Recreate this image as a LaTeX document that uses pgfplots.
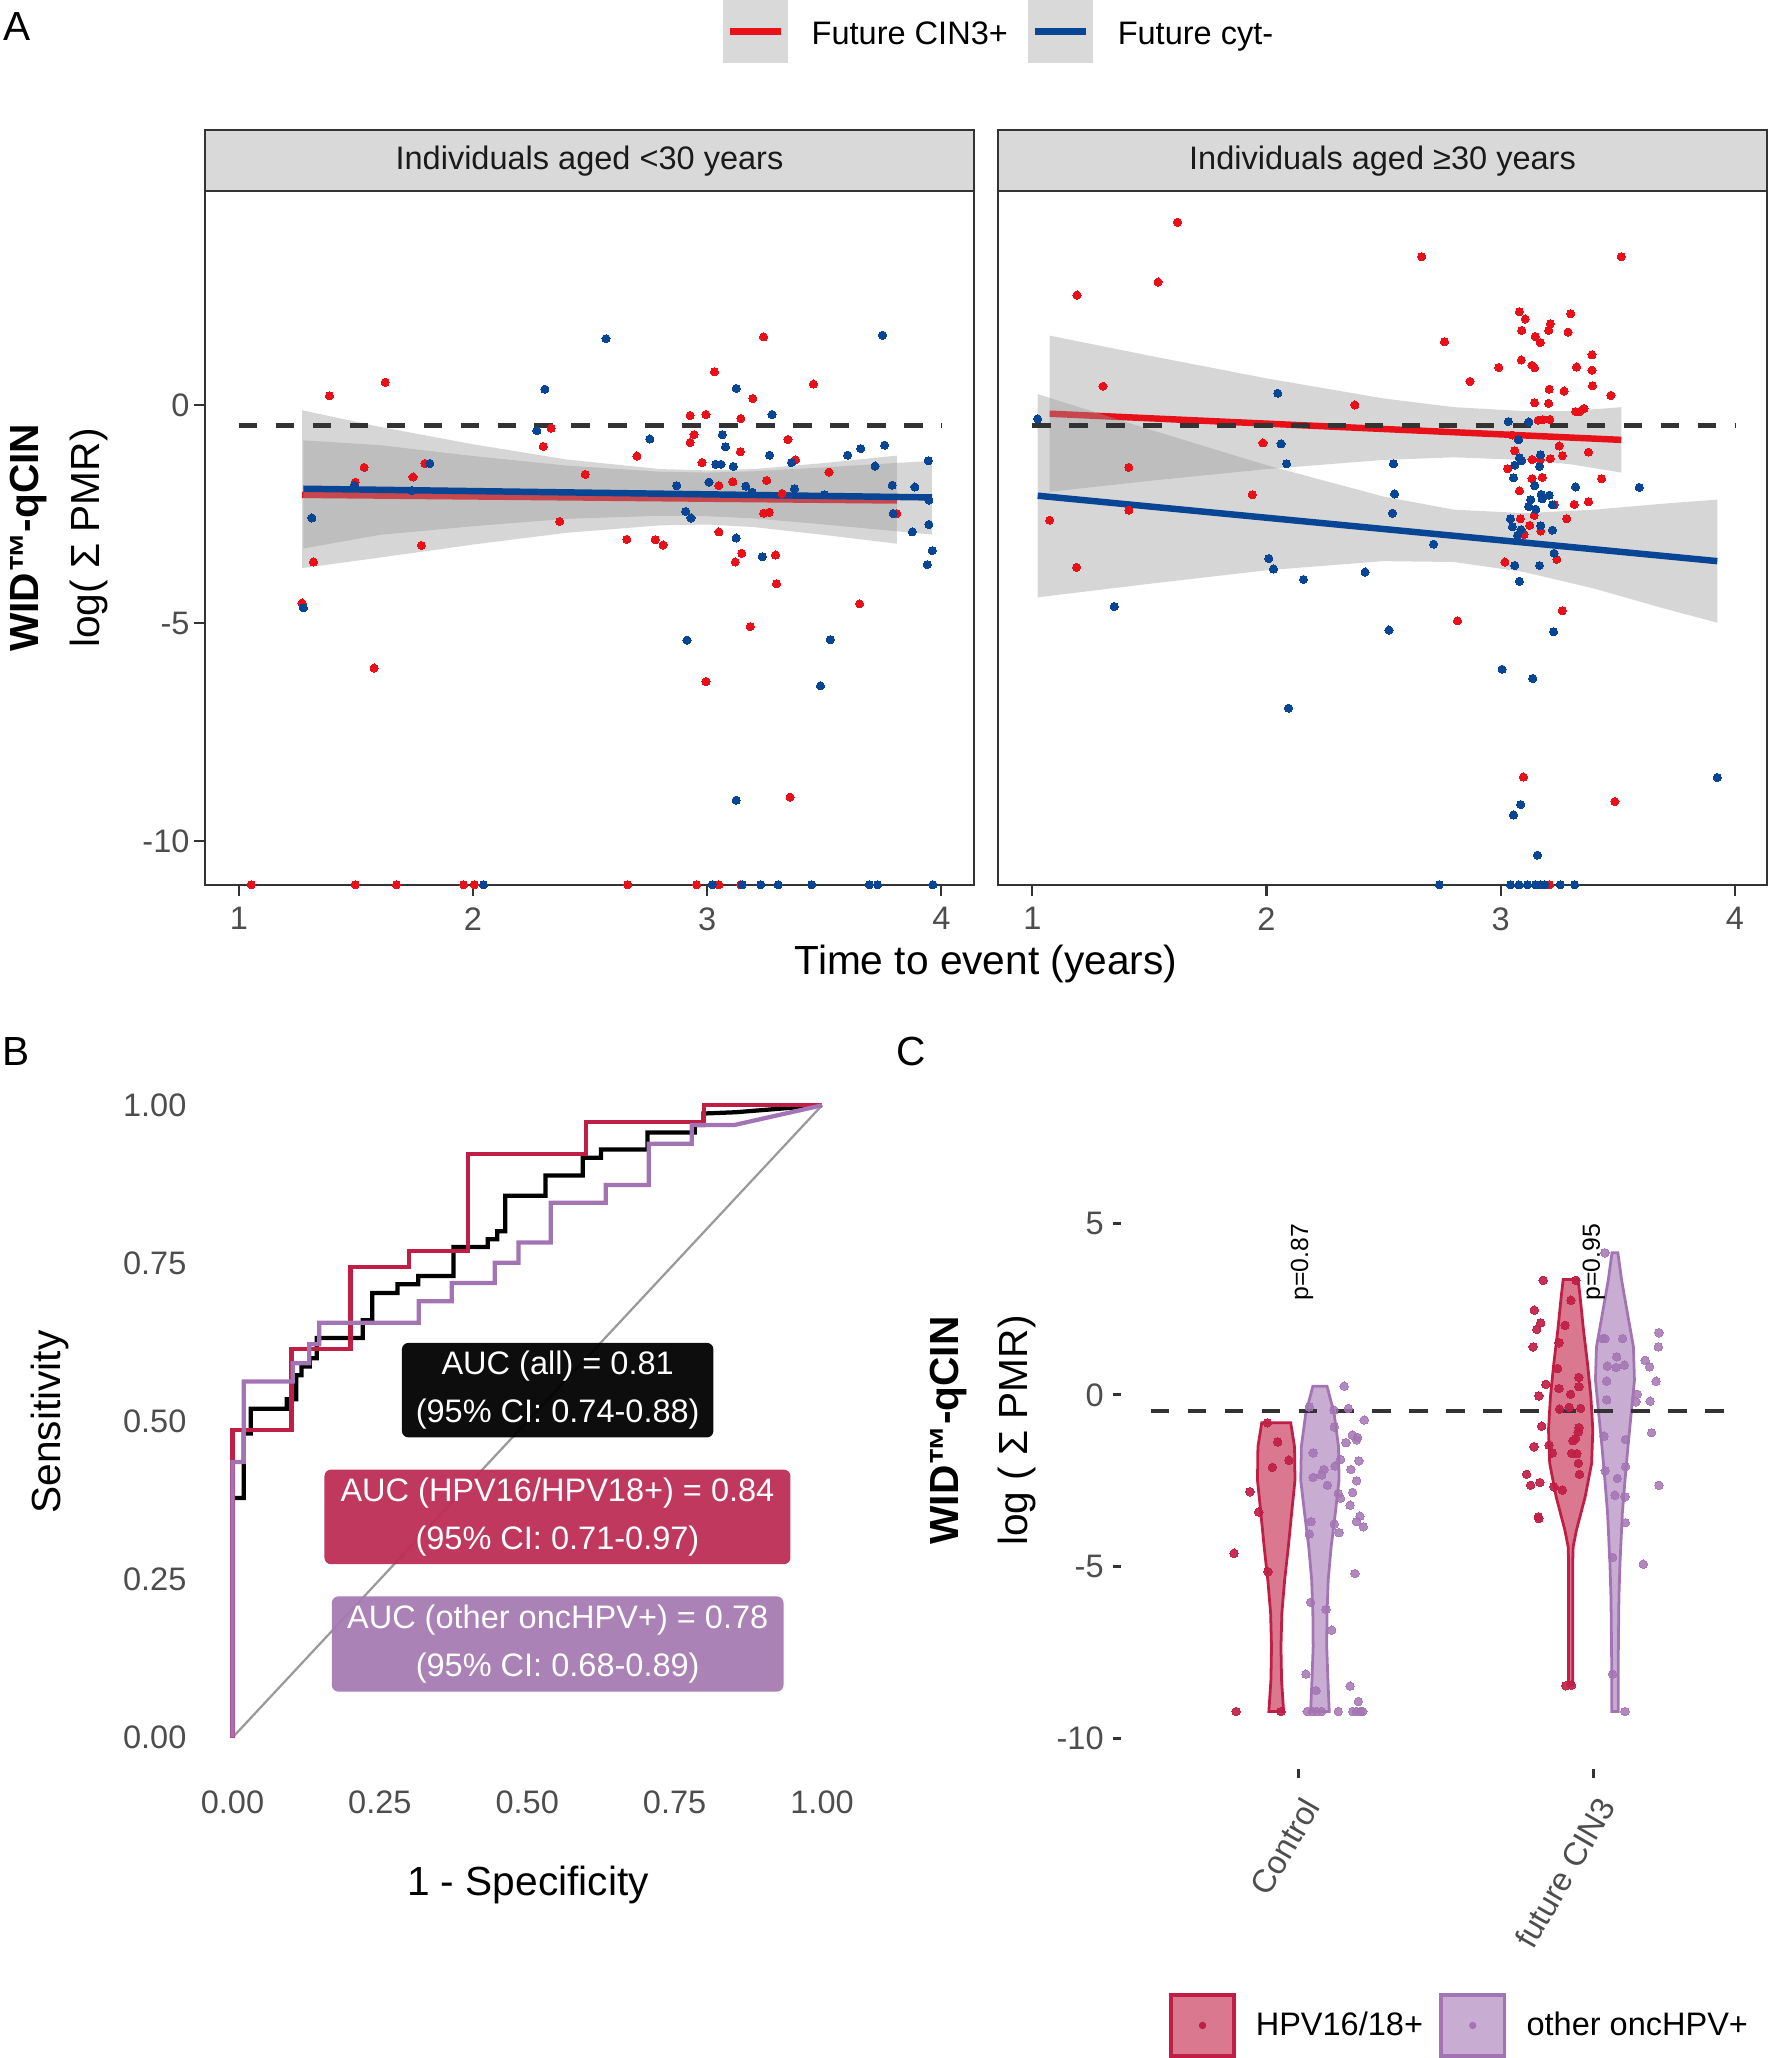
\documentclass[border=0pt]{standalone}
\usepackage{fontspec}
\setmainfont{Liberation Sans}
\usepackage{pgfplots}
\pgfplotsset{compat=1.18}
\definecolor{redA}{HTML}{E8111A}
\definecolor{blueA}{HTML}{084594}
\definecolor{crim}{HTML}{C01E45}
\definecolor{crimbox}{HTML}{BE2D55}
\definecolor{purp}{HTML}{A374B3}
\definecolor{purpbox}{HTML}{A57BB2}
\definecolor{g20}{HTML}{333333}
\definecolor{g30}{HTML}{4D4D4D}
\definecolor{g10}{HTML}{1A1A1A}
\definecolor{g85}{HTML}{D9D9D9}
\definecolor{g60}{HTML}{999999}
\newcommand{\tkf}{\fontsize{8.8}{10}\selectfont}
\newcommand{\ttl}{\fontsize{11}{13}\selectfont}
\pgfplotsset{
  Abase/.style={anchor=south west, scale only axis, width=208.07pt, height=187.64pt,
    ymin=-11.004, ymax=4.895, xtick={1,2,3,4}, xticklabels={1,2,3,4},
    axis line style={g20, line width=0.55pt}, tick style={g20, line width=0.55pt},
    tick align=outside, major tick length=2.85pt, xtick pos=left, ytick pos=left,
    ticklabel style={font=\tkf, text=g30, inner sep=0pt},
    xticklabel style={anchor=north, yshift=-3.0pt},
    yticklabel style={anchor=east, xshift=-1.15pt},
    clip=true},
  ptR/.style={only marks, mark=*, mark size=1.1pt, color=redA, mark options={line width=0pt}},
  ptB/.style={only marks, mark=*, mark size=1.1pt, color=blueA, mark options={line width=0pt}},
  band/.style={fill=g60, fill opacity=0.4, draw=none},
  lnR/.style={redA, line width=1.75pt, no marks},
  lnB/.style={blueA, line width=1.75pt, no marks},
  dsh/.style={g20, line width=1.25pt, dash pattern=on 5pt off 5pt, no marks},
}
\begin{document}
\begin{tikzpicture}
\useasboundingbox (0,0) rectangle (478.91pt,556.83pt);

% ---------------- Panel A legend ----------------
\fill[g85] (195.62pt,539.79pt) rectangle (213.21pt,556.83pt);
\draw[redA, line width=1.75pt] (197.52pt,548.31pt) -- (211.31pt,548.31pt);
\node[anchor=base west, inner sep=0pt, font=\tkf] at (219.43pt,544.78pt) {Future CIN3+};
\fill[g85] (278.15pt,539.79pt) rectangle (295.73pt,556.83pt);
\draw[blueA, line width=1.75pt] (280.04pt,548.31pt) -- (293.84pt,548.31pt);
\node[anchor=base west, inner sep=0pt, font=\tkf] at (302.23pt,544.78pt) {Future cyt-};

% strips
\draw[fill=g85, draw=g20, line width=0.5pt] (55.47pt,505.02pt) rectangle (263.54pt,521.66pt);
\draw[fill=g85, draw=g20, line width=0.5pt] (270.03pt,505.02pt) rectangle (478.10pt,521.66pt);
\node[anchor=base, inner sep=0pt, font=\tkf, text=g10] at (159.50pt,510.9pt) {Individuals aged <30 years};
\node[anchor=base, inner sep=0pt, font=\tkf, text=g10] at (374.06pt,510.9pt) {Individuals aged ≥30 years};

% titles A
\node[anchor=base, rotate=90, inner sep=0pt, font=\bfseries\ttl] at (10.3pt,411.27pt) {WID™-qCIN};
\node[anchor=base, rotate=90, inner sep=0pt, font=\ttl] at (26.9pt,411.27pt) {log( Σ PMR)};
\node[anchor=base, inner sep=0pt, font=\ttl] at (266.78pt,293.03pt) {Time to event (years)};
\node[anchor=base west, inner sep=0pt, font=\ttl] at (0.7pt,545.8pt) {A};
\node[anchor=base west, inner sep=0pt, font=\ttl] at (0.46pt,268.41pt) {B};
\node[anchor=base west, inner sep=0pt, font=\ttl] at (242.43pt,268.41pt) {C};

% ---------------- Panel A left ----------------
\begin{axis}[Abase, at={(55.47pt,317.38pt)}, xmin=0.8557, xmax=4.1396,
  ytick={-10,-5,0}, yticklabels={-10,-5,0}]
\addplot[ptR] table {
x y
1.387 0.21
1.625 0.52
1.270 -4.54
1.578 -6.03
1.497 -1.77
1.535 -1.43
1.744 -1.65
1.795 -1.34
1.780 -3.22
1.319 -3.60
2.334 -0.53
2.300 -0.95
2.370 -2.67
2.479 -1.59
2.700 -1.17
2.657 -3.08
2.778 -3.09
2.812 -3.21
2.927 -0.24
2.995 -0.22
2.944 -0.68
2.927 -0.86
3.031 0.76
2.978 -1.32
3.050 -2.91
3.050 -1.85
2.995 -6.34
3.110 -1.76
3.144 -0.31
3.142 -1.07
3.195 0.15
3.241 1.56
3.120 -3.60
3.148 -3.40
3.184 -5.08
3.254 -1.73
3.241 -2.48
3.265 -2.46
3.292 -3.44
3.296 -4.10
3.345 -0.79
3.377 -1.26
3.354 -8.99
3.454 0.48
3.520 -1.54
3.651 -4.56
3.810 -2.49
3.320 -2.03
1.053 -11
1.497 -11
1.673 -11
1.960 -11
2.005 -11
2.661 -11
2.955 -11
3.050 -11
3.144 -11
};
\addplot[ptB] table {
x y
2.568 1.52
2.307 0.36
2.273 -0.59
2.755 -0.78
3.124 0.38
3.065 -0.68
3.078 -0.96
3.037 -1.36
3.059 -1.36
3.112 -1.41
3.277 -0.22
3.267 -1.15
3.360 -1.32
3.600 -1.15
3.656 -1.00
3.758 -0.92
3.749 1.60
3.717 -1.40
3.790 -1.84
3.887 -1.88
3.944 -1.28
3.947 -2.18
3.947 -2.74
3.876 -2.91
3.961 -3.34
3.940 -3.66
3.794 -2.49
2.870 -1.85
2.908 -2.44
2.931 -2.59
3.008 -1.77
3.165 -1.86
3.192 -2.00
3.373 -1.92
3.500 -2.06
3.124 -3.05
3.235 -3.48
2.914 -5.39
3.526 -5.38
3.484 -6.44
3.124 -9.06
1.276 -4.65
1.312 -2.59
1.816 -1.34
1.739 -1.96
1.493 -1.84
2.045 -11
3.022 -11
3.150 -11
3.229 -11
3.303 -11
3.447 -11
3.692 -11
3.728 -11
3.964 -11
};
\addplot[band] coordinates {(1.27,-0.12)(1.6,-0.5)(2.0,-0.9)(2.4,-1.25)(2.8,-1.47)(3.0,-1.5)(3.2,-1.47)(3.5,-1.33)(3.81,-1.16)
 (3.81,-3.18)(3.5,-2.98)(3.2,-2.8)(3.0,-2.74)(2.8,-2.76)(2.4,-2.93)(2.0,-3.2)(1.6,-3.5)(1.27,-3.74)} -- cycle;
\addplot[lnR] coordinates {(1.27,-2.06)(3.81,-2.19)};
\addplot[band] coordinates {(1.276,-0.81)(1.6,-0.92)(2.0,-1.17)(2.4,-1.39)(2.8,-1.53)(3.0,-1.55)(3.2,-1.52)(3.5,-1.43)(3.96,-1.28)
 (3.96,-2.97)(3.5,-2.74)(3.2,-2.6)(3.0,-2.55)(2.8,-2.54)(2.4,-2.61)(2.0,-2.78)(1.6,-2.98)(1.276,-3.29)} -- cycle;
\addplot[lnB] coordinates {(1.276,-1.92)(3.96,-2.12)};
\addplot[dsh] coordinates {(1,-0.47)(4,-0.47)};
\end{axis}

% ---------------- Panel A right ----------------
\begin{axis}[Abase, at={(270.03pt,317.38pt)}, xmin=0.8535, xmax=4.1375, ytick=\empty]
\addplot[ptR] table {
x y
1.620 4.19
2.663 3.40
3.515 3.40
1.191 2.52
1.537 2.82
1.302 0.43
2.377 0.00
1.985 -0.87
1.412 -1.43
1.939 -2.06
1.412 -2.41
1.074 -2.64
1.189 -3.72
2.760 1.45
2.869 0.54
2.992 0.86
2.816 -4.95
3.080 2.14
3.105 1.97
3.090 1.71
3.148 1.57
3.169 1.43
3.212 1.86
3.205 1.71
3.299 2.09
3.288 1.67
3.088 1.03
3.134 0.91
3.145 0.85
3.390 1.15
3.324 0.87
3.390 0.80
3.392 0.44
3.207 0.36
3.271 0.32
3.471 0.22
3.145 0.05
3.205 0.04
3.320 -0.15
3.337 -0.15
3.356 -0.08
3.160 -0.35
3.180 -0.34
3.210 -0.33
3.050 -0.69
3.060 -1.05
3.250 -0.94
3.264 -1.16
3.375 -1.08
3.134 -1.25
3.169 -1.25
3.212 -1.23
3.030 -1.46
3.134 -1.69
3.178 -1.66
3.431 -1.69
3.080 -1.97
3.229 -2.29
3.314 -2.28
3.375 -2.22
3.143 -2.53
3.084 -2.61
3.124 -2.76
3.171 -2.89
3.100 -2.97
3.282 -2.61
3.018 -3.60
3.240 -3.54
3.263 -4.72
3.097 -8.53
3.488 -9.09
3.209 -11
};
\addplot[ptB] table {
x y
1.023 -0.32
2.048 0.27
2.062 -0.89
2.086 -1.35
2.542 -1.35
2.547 -2.04
2.538 -2.48
2.714 -3.19
2.010 -3.52
2.030 -3.76
2.158 -4.00
2.421 -3.83
1.350 -4.62
2.523 -5.16
2.094 -6.95
3.006 -6.06
3.137 -6.27
3.226 -5.20
3.592 -1.89
3.320 -1.88
3.925 -8.54
3.033 -0.38
3.120 -0.39
3.076 -0.80
3.060 -1.38
3.080 -1.21
3.090 -1.28
3.170 -1.14
3.166 -1.41
3.055 -1.67
3.145 -1.85
3.173 -2.05
3.207 -2.07
3.177 -2.15
3.128 -2.17
3.120 -2.33
3.150 -2.39
3.221 -2.29
3.042 -2.61
3.050 -2.79
3.087 -2.86
3.072 -2.99
3.171 -2.77
3.221 -2.87
3.228 -3.40
3.060 -3.68
3.166 -3.68
3.080 -4.04
3.157 -10.32
3.085 -9.16
3.055 -9.40
2.738 -11
3.042 -11
3.078 -11
3.114 -11
3.148 -11
3.171 -11
3.188 -11
3.254 -11
3.316 -11
};
\addplot[band] coordinates {(1.074,1.59)(1.5,1.13)(2.0,0.61)(2.5,0.15)(2.8,-0.05)(3.1,-0.14)(3.3,-0.14)(3.515,-0.05)
 (3.515,-1.55)(3.3,-1.36)(3.1,-1.26)(2.8,-1.2)(2.5,-1.26)(2.0,-1.47)(1.5,-1.74)(1.074,-1.99)} -- cycle;
\addplot[lnR] coordinates {(1.074,-0.2)(3.515,-0.8)};
\addplot[band] coordinates {(1.023,0.25)(1.5,-0.56)(2.0,-1.38)(2.5,-2.10)(2.8,-2.40)(3.1,-2.48)(3.4,-2.40)(3.7,-2.26)(3.925,-2.17)
 (3.925,-4.99)(3.7,-4.67)(3.4,-4.21)(3.1,-3.83)(2.8,-3.60)(2.5,-3.58)(2.0,-3.79)(1.5,-4.10)(1.023,-4.41)} -- cycle;
\addplot[lnB] coordinates {(1.023,-2.08)(3.925,-3.58)};
\addplot[dsh] coordinates {(1,-0.47)(4,-0.47)};
\end{axis}

% ---------------- Panel B ----------------
\node[anchor=base, rotate=90, inner sep=0pt, font=\ttl] at (16.42pt,172.08pt) {Sensitivity};
\node[anchor=base, inner sep=0pt, font=\ttl] at (142.86pt,43.89pt) {1 - Specificity};
\begin{axis}[at={(54.93pt,78.14pt)}, anchor=south west, scale only axis, width=175.46pt, height=188.18pt,
  xmin=-0.05, xmax=1.05, ymin=-0.05, ymax=1.05,
  axis line style={draw=none}, major tick length=0pt, tick style={draw=none},
  xtick={0,0.25,0.5,0.75,1}, xticklabels={0.00,0.25,0.50,0.75,1.00},
  ytick={0,0.25,0.5,0.75,1}, yticklabels={0.00,0.25,0.50,0.75,1.00},
  ticklabel style={font=\tkf, text=g30, inner sep=0pt},
  xticklabel style={anchor=north, yshift=-5.6pt},
  yticklabel style={anchor=east, xshift=-4.3pt},
  clip=false]
\addplot[g60, line width=0.6pt, no marks] coordinates {(0,0)(1,1)};
\addplot[black, line width=1.15pt, no marks] coordinates {(0,0)(0,0.379)(0.019,0.379)(0.019,0.481)(0.031,0.481)(0.031,0.52)(0.092,0.52)(0.092,0.535)(0.108,0.535)(0.108,0.573)(0.117,0.573)(0.117,0.587)(0.131,0.587)(0.131,0.6)(0.143,0.6)(0.143,0.632)(0.221,0.632)(0.221,0.66)(0.237,0.66)(0.237,0.703)(0.28,0.703)(0.28,0.717)(0.315,0.717)(0.315,0.73)(0.375,0.73)(0.375,0.776)(0.433,0.776)(0.433,0.788)(0.449,0.788)(0.449,0.801)(0.4625,0.801)(0.4625,0.857)(0.531,0.857)(0.531,0.889)(0.594,0.889)(0.594,0.917)(0.625,0.917)(0.625,0.93)(0.704,0.93)(0.704,0.957)(0.784,0.957)(0.784,0.969)(0.799,0.969)(0.799,0.987)(0.853,0.989)(1,1)};
\addplot[crim, line width=1.15pt, no marks] coordinates {(0,0)(0,0.487)(0.1,0.487)(0.1,0.615)(0.2,0.615)(0.2,0.744)(0.3,0.744)(0.3,0.769)(0.4,0.769)(0.4,0.923)(0.6,0.923)(0.6,0.974)(0.8,0.974)(0.8,1)(1,1)};
\addplot[purp, line width=1.15pt, no marks] coordinates {(0,0)(0,0.436)(0.019,0.436)(0.019,0.563)(0.102,0.563)(0.102,0.592)(0.13,0.592)(0.13,0.622)(0.147,0.622)(0.147,0.656)(0.316,0.656)(0.316,0.690)(0.372,0.690)(0.372,0.719)(0.445,0.719)(0.445,0.751)(0.485,0.751)(0.485,0.783)(0.540,0.783)(0.540,0.846)(0.633,0.846)(0.633,0.874)(0.706,0.874)(0.706,0.939)(0.779,0.939)(0.779,0.969)(0.852,0.969)(1,1)};
\node[fill=black, fill opacity=0.95, text opacity=1, text=white, rounded corners=1.8pt, inner sep=0pt,
  minimum width=84.3pt, minimum height=25.6pt, align=center, font=\fontsize{8.8}{13}\selectfont]
  at (axis cs:0.5516,0.5495) {AUC (all) = 0.81\\(95\% CI: 0.74-0.88)};
\node[fill=crimbox, fill opacity=0.95, text opacity=1, text=white, rounded corners=1.8pt, inner sep=0pt,
  minimum width=126.1pt, minimum height=25.6pt, align=center, font=\fontsize{8.8}{13}\selectfont]
  at (axis cs:0.5512,0.349) {AUC (HPV16/HPV18+) = 0.84\\(95\% CI: 0.71-0.97)};
\node[fill=purpbox, fill opacity=0.95, text opacity=1, text=white, rounded corners=1.8pt, inner sep=0pt,
  minimum width=122.2pt, minimum height=25.8pt, align=center, font=\fontsize{8.8}{13}\selectfont]
  at (axis cs:0.5516,0.148) {AUC (other oncHPV+) = 0.78\\(95\% CI: 0.68-0.89)};
\end{axis}

% ---------------- Panel C ----------------
\node[anchor=base, rotate=90, inner sep=0pt, font=\bfseries\ttl] at (259.4pt,169.75pt) {WID™-qCIN};
\node[anchor=base, rotate=90, inner sep=0pt, font=\ttl] at (277.9pt,169.75pt) {log ( Σ PMR)};
\begin{axis}[at={(303.36pt,78.14pt)}, anchor=south west, scale only axis, width=175.78pt, height=188.18pt,
  xmin=0.4, xmax=2.6, ymin=-10.9, ymax=9.357,
  axis line style={draw=none}, tick align=outside, major tick length=2.3pt, tick style={g20, line width=0.8pt},
  xtick={1,2}, xticklabels={Control,future CIN3}, ytick={-10,-5,0,5}, yticklabels={-10,-5,0,5},
  xtick pos=left, ytick pos=left,
  ticklabel style={font=\tkf, text=g30, inner sep=0pt},
  xticklabel style={xshift=0.6pt, yshift=-4.4pt, rotate=60, anchor=north east},
  yticklabel style={anchor=east, xshift=-2.25pt},
  clip=false]
\addplot[draw=crim, fill=crim, fill opacity=0.6, line width=0.75pt] coordinates {(0.900,-9.22)(0.907,-8.30)(0.909,-7.33)(0.906,-6.36)(0.8965,-5.39)(0.884,-4.42)(0.873,-3.45)(0.8615,-2.48)(0.863,-1.51)(0.876,-0.81)(0.974,-0.81)(0.987,-1.51)(0.9885,-2.48)(0.977,-3.45)(0.966,-4.42)(0.9535,-5.39)(0.944,-6.36)(0.941,-7.33)(0.943,-8.30)(0.950,-9.22)} -- cycle;
\addplot[draw=purp, fill=purp, fill opacity=0.6, line width=0.75pt] coordinates {(1.0415,-9.22)(1.046,-8.30)(1.050,-7.33)(1.049,-6.36)(1.045,-5.39)(1.035,-4.42)(1.021,-3.45)(1.008,-2.48)(1.010,-1.51)(1.025,-0.54)(1.049,0.256)(1.097,0.256)(1.121,-0.54)(1.136,-1.51)(1.1376,-2.48)(1.125,-3.45)(1.111,-4.42)(1.101,-5.39)(1.097,-6.36)(1.096,-7.33)(1.100,-8.30)(1.1045,-9.22)} -- cycle;
\addplot[draw=crim, fill=crim, fill opacity=0.6, line width=0.75pt] coordinates {(1.915,-8.45)(1.915,-4.91)(1.9135,-4.42)(1.9025,-3.94)(1.873,-2.97)(1.851,-1.99)(1.847,-1.02)(1.8535,-0.05)(1.865,0.92)(1.8785,1.89)(1.890,2.86)(1.8966,3.36)(1.9474,3.36)(1.954,2.86)(1.9655,1.89)(1.979,0.92)(1.9905,-0.05)(1.997,-1.02)(1.993,-1.99)(1.971,-2.97)(1.9415,-3.94)(1.9305,-4.42)(1.929,-4.91)(1.929,-8.45)} -- cycle;
\addplot[draw=purp, fill=purp, fill opacity=0.6, line width=0.75pt] coordinates {(2.061,-9.22)(2.061,-7.82)(2.0585,-5.88)(2.055,-4.91)(2.047,-3.45)(2.038,-2.48)(2.028,-1.51)(2.017,-0.54)(2.006,0.43)(2.0094,1.40)(2.0295,2.37)(2.0493,3.34)(2.062,4.14)(2.082,4.14)(2.0947,3.34)(2.1145,2.37)(2.1346,1.40)(2.138,0.43)(2.127,-0.54)(2.116,-1.51)(2.106,-2.48)(2.097,-3.45)(2.089,-4.91)(2.0855,-5.88)(2.083,-7.82)(2.0833,-9.22)} -- cycle;
\addplot[only marks, mark=*, mark size=1.15pt, color=crim, mark options={line width=0pt, opacity=0.92}] table {
x y
0.895 -0.81
0.930 -1.37
0.968 -1.90
0.912 -2.11
0.836 -2.82
0.866 -3.41
0.782 -4.61
0.897 -5.15
0.789 -9.22
0.941 -9.22
1.829 3.34
1.940 3.34
1.923 2.76
1.799 2.47
1.8205 2.10
1.807 1.91
1.903 2.03
1.795 1.40
1.8825 1.52
1.878 0.77
1.950 0.51
1.838 0.31
1.8825 0.19
1.950 0.24
1.8145 -0.03
1.922 0.02
1.884 -0.41
1.917 -0.36
1.956 -0.39
1.824 -0.91
1.950 -0.95
1.9475 -1.08
1.939 -1.27
1.930 -1.33
1.8487 -1.46
1.798 -1.51
1.9255 -1.70
1.943 -1.71
1.860 -1.69
1.948 -1.99
1.952 -2.31
1.773 -2.31
1.7866 -2.63
1.818 -2.55
1.8655 -2.68
1.894 -2.77
1.8125 -3.55
1.8145 -3.60
1.906 -8.47
1.925 -8.45
};
\addplot[only marks, mark=*, mark size=1.15pt, color=purp, mark options={line width=0pt, opacity=0.85}] table {
x y
1.155 0.256
1.037 -0.35
1.1205 -0.44
1.169 -0.39
1.223 -0.73
1.1216 -0.93
1.1826 -1.17
1.2008 -1.24
1.161 -1.39
1.197 -1.31
1.050 -1.69
1.143 -1.88
1.205 -1.92
1.0867 -2.17
1.079 -2.33
1.124 -2.07
1.050 -2.40
1.178 -2.17
1.098 -2.63
1.197 -2.50
1.135 -2.87
1.184 -2.84
1.143 -3.01
1.175 -3.21
1.043 -3.69
1.1216 -3.76
1.2086 -3.53
1.197 -3.69
1.220 -3.84
1.037 -4.05
1.1375 -4.01
1.1916 -5.20
1.0416 -6.04
1.0935 -6.25
1.1127 -6.85
1.0257 -8.13
1.175 -8.48
1.0596 -8.61
1.203 -8.93
1.030 -9.22
1.048 -9.22
1.062 -9.22
1.079 -9.22
1.135 -9.22
1.184 -9.22
1.197 -9.22
1.211 -9.22
1.218 -9.22
2.038 4.14
2.030 1.64
2.038 1.64
2.098 1.64
2.221 1.81
2.219 1.40
2.078 1.11
2.046 0.84
2.076 0.80
2.104 0.87
2.174 1.01
2.189 0.82
2.044 0.40
2.211 0.40
2.1477 0.02
2.143 -0.20
2.191 -0.18
2.044 -0.14
2.196 -1.10
2.035 -1.20
2.108 -1.30
2.039 -2.21
2.108 -2.09
2.080 -2.43
2.221 -2.63
2.072 -2.92
2.106 -2.97
2.1075 -3.72
2.064 -4.73
2.168 -4.93
2.064 -8.13
2.106 -9.22
};
\addplot[g20, line width=1.2pt, dash pattern=on 5pt off 5pt, no marks] coordinates {(0.5,-0.47)(2.5,-0.47)};
\node[rotate=90, inner sep=0pt, font=\fontsize{6.7}{8}\selectfont] at (axis cs:1.012,3.86) {p=0.87};
\node[rotate=90, inner sep=0pt, font=\fontsize{6.7}{8}\selectfont] at (axis cs:2.0,3.86) {p=0.95};
\end{axis}

% legend C
\draw[fill=crim, fill opacity=0.6, draw=crim, draw opacity=1, line width=1pt] (316.84pt,0.54pt) rectangle (333.88pt,17.05pt);
\fill[crim] (325.36pt,8.8pt) circle (1pt);
\node[anchor=base west, inner sep=0pt, font=\tkf] at (339.57pt,6.0pt) {HPV16/18+};
\draw[fill=purp, fill opacity=0.6, draw=purp, draw opacity=1, line width=1pt] (389.89pt,0.54pt) rectangle (407.05pt,17.05pt);
\fill[purp] (398.47pt,8.8pt) circle (1pt);
\node[anchor=base west, inner sep=0pt, font=\tkf] at (412.83pt,6.0pt) {other oncHPV+};
\end{tikzpicture}
\end{document}
